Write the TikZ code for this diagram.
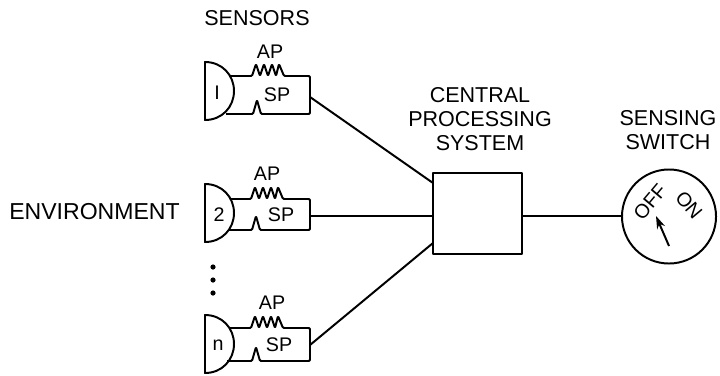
\documentclass[tikz,border=0pt]{standalone}
\usepackage{fontspec}
\setmainfont{Liberation Sans}
\usepackage{tikz}
\usetikzlibrary{arrows.meta, positioning}
\tikzset{
  wire/.style={line width=1.4pt, line join=round},
  bumps/.style={wire, rounded corners=0.8pt},
  lbl/.style={font=\fontsize{15.3}{17.3}\selectfont, inner sep=0pt, align=center},
  num/.style={font=\fontsize{14}{15}\selectfont, inner sep=0pt},
}
\begin{document}
\begin{tikzpicture}[x=0.025cm, y=-0.025cm]
\useasboundingbox (0,0) rectangle (720,375);
% Labels
\node[lbl] (sensors) at (257,18) {SENSORS};
\node[lbl, font=\fontsize{16.4}{18}\selectfont] (environment) at (94.5,212) {ENVIRONMENT};
\node[lbl] (central) at (480,119) {CENTRAL\\PROCESSING\\SYSTEM};
\node[lbl] (switch) at (668,130) {SENSING\\SWITCH};

% Sensor 1
\draw[wire] (205,62) .. controls (222,62) and (234,75) .. (234,91) .. controls (234,107) and (222,120) .. (205,120) -- cycle;
\draw[bumps] (230,76) -- (252,76) -- (256,64) -- (260,76) -- (264,64) -- (268,76) -- (272,64) -- (276,76) -- (279,64) -- (284,76) -- (310,76) -- (310,114) -- (261,114) -- (257,100) -- (253,114) -- (226,114);
\node[num] (s1) at (217,93) {I};
\node[num] (ap1) at (270,52) {AP};
\node[num] (sp1) at (277,95) {SP};
\coordinate (out1) at (310,97);

% Sensor 2
\draw[wire] (205,184) .. controls (222,184) and (234,197) .. (234,213) .. controls (234,229) and (222,242) .. (205,242) -- cycle;
\draw[bumps] (231,199) -- (251,199) -- (255,187) -- (259,199) -- (263,187) -- (267,199) -- (271,187) -- (275,199) -- (278,187) -- (283,199) -- (310,199) -- (310,230) -- (260,230) -- (256,216) -- (252,230) -- (229,230);
\node[num] (s2) at (219,215) {2};
\node[num] (ap2) at (267,174) {AP};
\node[num] (sp2) at (281,215) {SP};
\coordinate (out2) at (310,216);

% Dots
\fill (213,267) circle (2.6);
\fill (213,280) circle (2.6);
\fill (213,293) circle (2.6);

% Sensor n
\draw[wire] (205,315) .. controls (222,315) and (234,328) .. (234,344) .. controls (234,360) and (222,373) .. (205,373) -- cycle;
\draw[bumps] (230,328) -- (251,328) -- (255,316) -- (259,328) -- (263,316) -- (267,328) -- (271,316) -- (275,328) -- (278,316) -- (283,328) -- (310,328) -- (310,361) -- (260,361) -- (256,347) -- (252,361) -- (227,361);
\node[num] (sn) at (218,345) {n};
\node[num] (apn) at (272,303) {AP};
\node[num] (spn) at (279,345) {SP};
\coordinate (outn) at (310,345);

% Central system
\node[draw, wire, minimum width=2.22cm, minimum height=2.03cm, inner sep=0pt] (cps) at (477.5,213.5) {};
\coordinate (in1) at (433,183);
\coordinate (in2) at (433,216);
\coordinate (inn) at (433,243);
\coordinate (cpsout) at (522,216);
\draw[wire] (out1) -- (in1);
\draw[wire] (out2) -- (in2);
\draw[wire] (outn) -- (inn);

% Switch
\node[draw, wire, circle, minimum size=2.35cm, inner sep=0pt] (dial) at (669,216.5) {};
\coordinate (dialin) at (622,216);
\draw[wire] (cpsout) -- (dialin);
\node[num, rotate=50] (off) at (650,202) {OFF};
\node[num, rotate=-50] (on) at (689,205) {ON};
\coordinate (tail) at (669,246);
\coordinate (tip) at (656,216);
\draw[wire, -{Stealth[length=9pt, width=6pt]}] (tail) -- (tip);
\end{tikzpicture}
\end{document}
